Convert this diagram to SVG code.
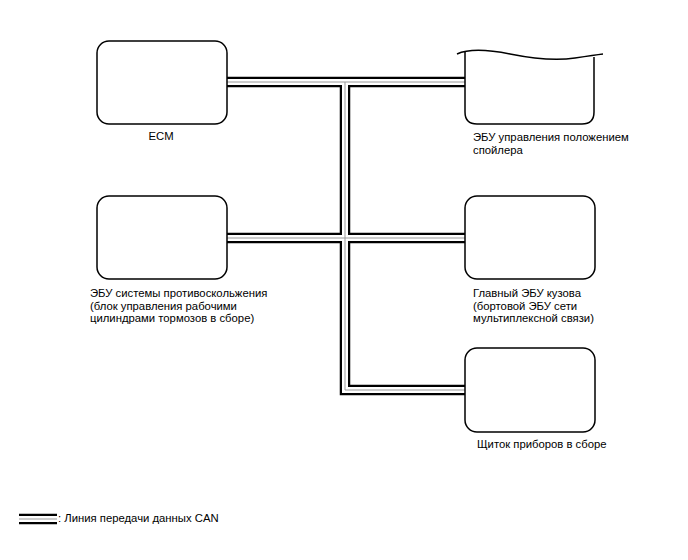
<svg xmlns="http://www.w3.org/2000/svg" width="688" height="560" viewBox="0 0 688 560">
<style>
.box{fill:#fff;stroke:#000;stroke-width:1.5}
.t{font-family:"Liberation Sans",Arial,sans-serif;font-size:11.3px;fill:#000}
.can-o{fill:none;stroke:#000;stroke-width:10.5}
.can-w{fill:none;stroke:#fff;stroke-width:6}
.can-g{fill:none;stroke:#999;stroke-width:1}
</style>
<rect width="688" height="560" fill="#fff"/>
<g id="connectors">
<path class="can-o" d="M227 82H465M345 82V390H465M227 238H465"/>
<path class="can-w" d="M227 82H465M345 82V390H465M227 238H465"/>
<path class="can-g" d="M227 82H465M345 82V390H465M227 238H465"/>
</g>
<g id="ecm">
<rect class="box" x="97" y="41" width="130" height="83" rx="12"/>
<text class="t" x="161" y="140" text-anchor="middle">ECM</text>
</g>
<g id="spoiler">
<path class="box" d="M465 52V112Q465 124 477 124H582Q594 124 594 112V57"/>
<path d="M457 54C468 49 485 49 510 54S555 61 575 58S595 55 603 54" fill="none" stroke="#000" stroke-width="1.5"/>
<text class="t" x="473" y="141">ЭБУ управления положением</text>
<text class="t" x="473" y="154">спойлера</text>
</g>
<g id="abs">
<rect class="box" x="97" y="196" width="130" height="83" rx="12"/>
<text class="t" x="90" y="297">ЭБУ системы противоскольжения</text>
<text class="t" x="90" y="310">(блок управления рабочими</text>
<text class="t" x="90" y="322">цилиндрами тормозов в сборе)</text>
</g>
<g id="body">
<rect class="box" x="465" y="196" width="130" height="83" rx="12"/>
<text class="t" x="473" y="297">Главный ЭБУ кузова</text>
<text class="t" x="473" y="310">(бортовой ЭБУ сети</text>
<text class="t" x="473" y="322">мультиплексной связи)</text>
</g>
<g id="cluster">
<rect class="box" x="465" y="348" width="130" height="84" rx="12"/>
<text class="t" x="477" y="448">Щиток приборов в сборе</text>
</g>
<g id="legend">
<path class="can-o" d="M19 519H57"/>
<path class="can-w" d="M19 519H57"/>
<path class="can-g" d="M19 519H57"/>
<text class="t" x="58" y="522">: Линия передачи данных CAN</text>
</g>
</svg>
